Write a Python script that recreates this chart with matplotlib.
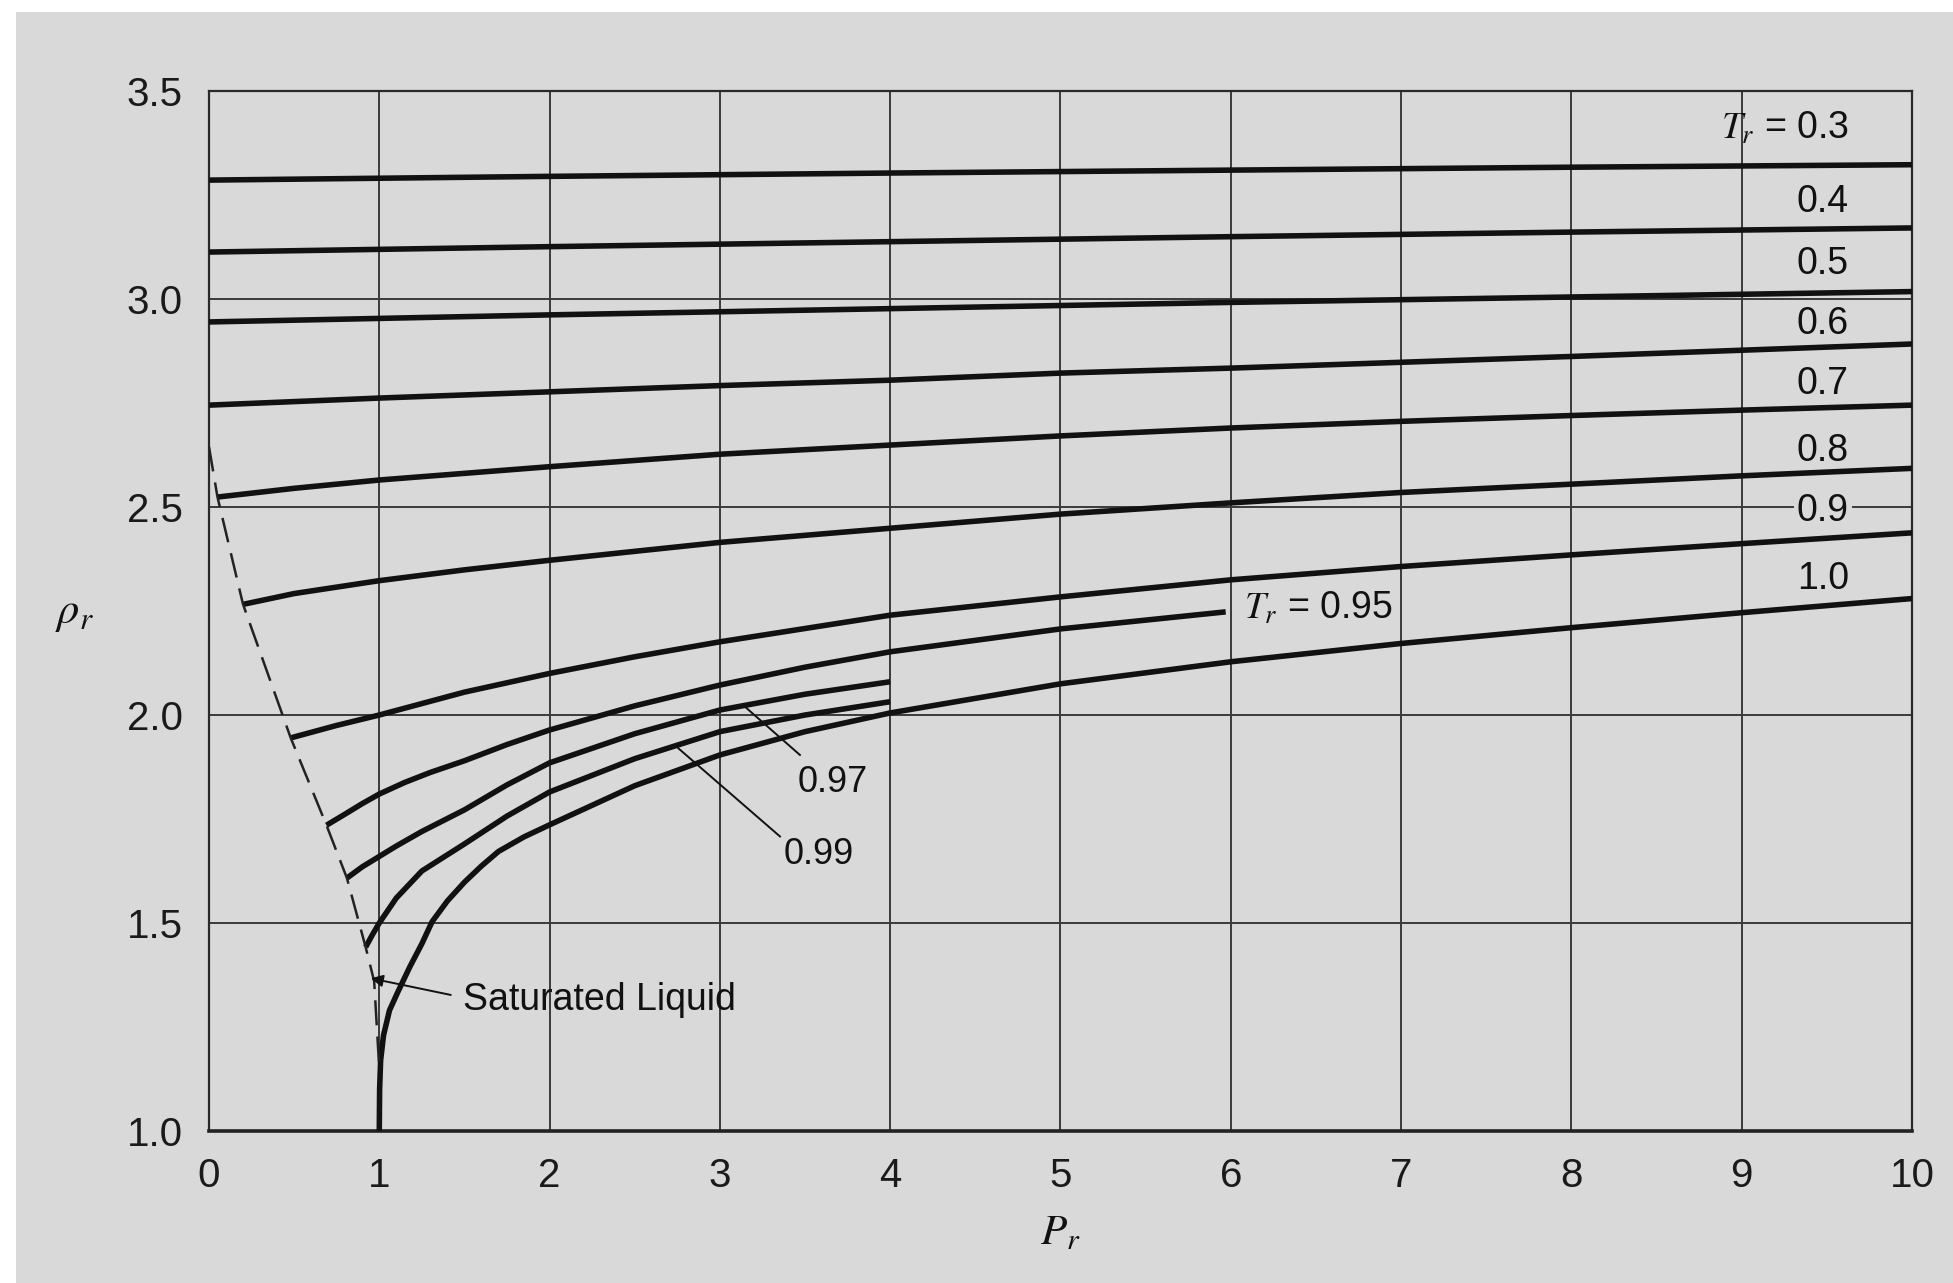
import matplotlib
matplotlib.use('Agg')
import matplotlib.pyplot as plt
from matplotlib.patches import Rectangle

plt.rcParams['font.family'] = ['Liberation Sans', 'DejaVu Sans']
plt.rcParams['mathtext.fontset'] = 'stix'

# reduced pressure / reduced density, one pair per isotherm
pr_03 = [0, 2, 4, 6, 8, 10]
rho_03 = [3.286, 3.295, 3.303, 3.310, 3.317, 3.323]
pr_04 = [0, 2, 4, 6, 8, 10]
rho_04 = [3.113, 3.126, 3.138, 3.150, 3.161, 3.171]
pr_05 = [0, 2, 4, 6, 8, 10]
rho_05 = [2.945, 2.962, 2.977, 2.992, 3.005, 3.018]
pr_06 = [0, 1, 2, 3, 4, 5, 6, 7, 8, 9, 10]
rho_06 = [2.745, 2.762, 2.777, 2.792, 2.805, 2.822, 2.834, 2.848, 2.862, 2.877, 2.892]
pr_07 = [0.05, 0.5, 1, 2, 3, 4, 5, 6, 7, 8, 9, 10]
rho_07 = [2.524, 2.545, 2.565, 2.597, 2.627, 2.649, 2.671, 2.690, 2.706, 2.720, 2.733, 2.745]
pr_08 = [0.2, 0.5, 1, 1.5, 2, 3, 4, 5, 6, 7, 8, 9, 10]
rho_08 = [2.266, 2.292, 2.323, 2.349, 2.372, 2.415, 2.449, 2.483, 2.510, 2.535, 2.555, 2.575, 2.593]
pr_09 = [0.48, 0.75, 1, 1.5, 2, 2.5, 3, 4, 5, 6, 7, 8, 9, 10]
rho_09 = [1.945, 1.975, 2.0, 2.055, 2.100, 2.140, 2.176, 2.240, 2.284, 2.325, 2.357, 2.385, 2.412, 2.438]
pr_095 = [0.69, 0.8, 0.9, 1, 1.15, 1.3, 1.5, 1.75, 2, 2.5, 3, 3.5, 4, 5, 5.97]
rho_095 = [1.735, 1.762, 1.787, 1.81, 1.838, 1.862, 1.89, 1.929, 1.964, 2.022, 2.072, 2.115, 2.152, 2.207, 2.248]
pr_097 = [0.81, 0.9, 1, 1.1, 1.25, 1.5, 1.75, 2, 2.5, 3, 3.5, 4]
rho_097 = [1.608, 1.635, 1.66, 1.685, 1.72, 1.772, 1.832, 1.885, 1.955, 2.012, 2.05, 2.08]
pr_099 = [0.92, 0.96, 1, 1.1, 1.25, 1.5, 1.75, 2, 2.5, 3, 3.5, 4]
rho_099 = [1.442, 1.472, 1.50, 1.56, 1.625, 1.69, 1.757, 1.815, 1.895, 1.96, 2.0, 2.032]
pr_10 = [1.0, 1.002, 1.008, 1.025, 1.06, 1.11, 1.18, 1.25, 1.31, 1.4, 1.5, 1.6, 1.7, 1.85, 2, 2.5, 3, 3.5, 4,
         5, 6, 7, 8, 9, 10]
rho_10 = [1.0, 1.10, 1.17, 1.23, 1.29, 1.335, 1.395, 1.45, 1.503, 1.553, 1.598, 1.637, 1.672, 1.707, 1.736,
          1.83, 1.904, 1.96, 2.005, 2.075, 2.128, 2.172, 2.21, 2.246, 2.28]

# saturated liquid (dashed)
pr_sat = [0.0, 0.05, 0.2, 0.48, 0.69, 0.81, 0.92, 0.97, 1.0]
rho_sat = [2.645, 2.524, 2.266, 1.945, 1.735, 1.608, 1.442, 1.36, 1.15]

right_labels = ['0.4', '0.5', '0.6', '0.7', '0.8', '0.9', '1.0']
right_label_rho = [3.234, 3.084, 2.94, 2.796, 2.635, 2.491, 2.326]

x_ticks = list(range(0, 11))
y_ticks = [1.0, 1.5, 2.0, 2.5, 3.0, 3.5]

bg = '#d9d9d9'
ink = '#111111'

fig = plt.figure(figsize=(19.53, 12.83), dpi=100, facecolor='white')
fig.patches.append(Rectangle((16 / 1953, 0), 1, 1 - 12 / 1283, transform=fig.transFigure,
                             facecolor=bg, edgecolor='none', zorder=-5))
ax = fig.add_axes([0.107, 0.1185, 0.872, 0.8105])
ax.set_facecolor(bg)

curves = [(pr_03, rho_03), (pr_04, rho_04), (pr_05, rho_05), (pr_06, rho_06),
          (pr_07, rho_07), (pr_08, rho_08), (pr_09, rho_09), (pr_095, rho_095),
          (pr_097, rho_097), (pr_099, rho_099), (pr_10, rho_10)]
for px, py in curves:
    ax.plot(px, py, color=ink, lw=4.0, solid_capstyle='butt', solid_joinstyle='round', zorder=3)

ax.plot(pr_sat, rho_sat, color='#222222', lw=1.8, linestyle=(0, (10, 4.5)), zorder=3)

ax.set_xlim(0, 10)
ax.set_ylim(1.0, 3.5)
ax.set_xticks(x_ticks)
ax.set_yticks(y_ticks)
ax.set_xticklabels([str(v) for v in x_ticks])
ax.set_yticklabels(['%.1f' % v for v in y_ticks])
ax.tick_params(length=0, labelsize=29, colors='#1a1a1a', pad=19)
ax.grid(True, color='#3a3a3a', lw=1.4)
ax.set_axisbelow(True)
for side in ['left', 'right', 'top']:
    ax.spines[side].set_color('#2a2a2a')
    ax.spines[side].set_linewidth(1.6)
ax.spines['bottom'].set_color('#222222')
ax.spines['bottom'].set_linewidth(2.6)

# isotherm labels
ax.text(9.63, 3.41, r'$T_r$ = 0.3', fontsize=27, ha='right', va='center', color=ink, zorder=4)
for lab, yv in zip(right_labels, right_label_rho):
    if lab == '0.9':
        ax.text(9.63, yv, lab, fontsize=27, ha='right', va='center', color=ink, zorder=4,
                bbox=dict(facecolor=bg, edgecolor='none', pad=2))
    else:
        ax.text(9.63, yv, lab, fontsize=27, ha='right', va='center', color=ink, zorder=4)
ax.text(6.08, 2.255, r'$T_r$ = 0.95', fontsize=27, ha='left', va='center', color=ink, zorder=4)
ax.text(3.66, 1.838, '0.97', fontsize=26, ha='center', va='center', color=ink)
ax.text(3.58, 1.665, '0.99', fontsize=26, ha='center', va='center', color=ink)
ax.plot([3.147, 3.47], [2.02, 1.904], color=ink, lw=1.4)
ax.plot([2.756, 3.353], [1.92, 1.708], color=ink, lw=1.4)

ax.annotate('', xy=(0.95, 1.367), xytext=(1.42, 1.327),
            arrowprops=dict(arrowstyle='-|>', color=ink, lw=1.4, mutation_scale=18, shrinkA=0, shrinkB=0))
ax.text(1.49, 1.314, 'Saturated Liquid', fontsize=27, ha='left', va='center', color=ink)

fig.text(0.038, 0.522, r'$\rho_r$', fontsize=32, ha='center', va='center', color=ink)
fig.text(0.543, 0.039, r'$P_r$', fontsize=31, ha='center', va='center', color=ink)

fig.savefig('out.png', dpi=100, facecolor=fig.get_facecolor())
